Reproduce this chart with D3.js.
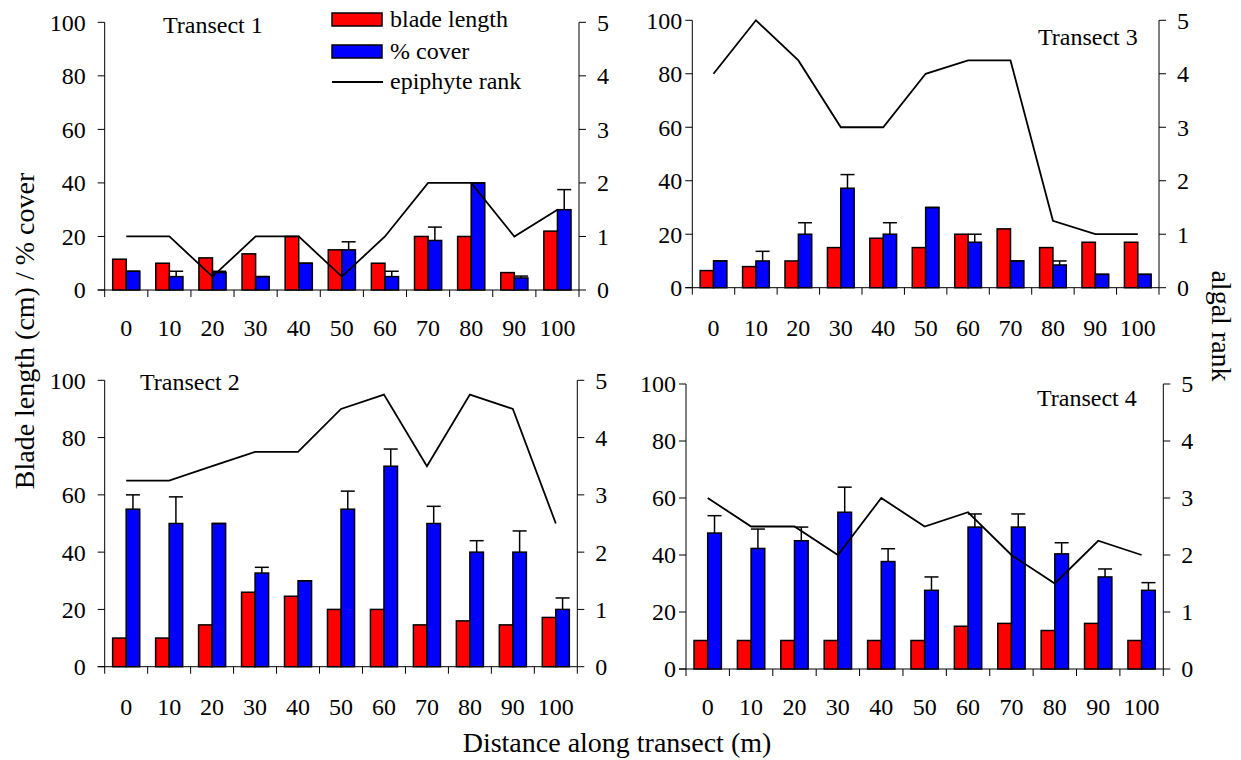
<!DOCTYPE html>
<html>
<head>
<meta charset="utf-8">
<script src="https://cdn.jsdelivr.net/npm/d3@7"></script>
<style>
  html, body { margin: 0; padding: 0; background: #fff; }
  svg { display: block; }
  svg text { font-family: "Liberation Serif", "Times New Roman", Times, serif; }
</style>
</head>
<body>
<svg id="chart" width="1241" height="760"></svg>
<script>
// ---------- DATA ----------
const categories = ["0","10","20","30","40","50","60","70","80","90","100"];
const leftTicks = [0,20,40,60,80,100];
const rightTicks = [0,1,2,3,4,5];

// Transect 1
const blade1 = [11.5,10,12,13.5,20,15,10,20,20,6.5,22];
const cover1 = [7,5,6.5,5,10,15,5,18.5,40,4.5,30];
const err1   = [0,2,0.5,0,0,3,2,5,0,0.7,7.5];
const rank1  = [1,1,0.25,1,1,0.25,1,2,2,1,1.5];

// Transect 2
const blade2 = [10,10,14.6,26,24.6,20,20,14.6,16,14.6,17.2];
const cover2 = [55,50,50,32.7,30,55,70,50,40,40,20];
const err2   = [5,9.3,0,2,0,6.3,6,6,4,7.4,4];
const rank2  = [3.25,3.25,3.5,3.75,3.75,4.5,4.75,3.5,4.75,4.5,2.5];

// Transect 3
const blade3 = [6.4,7.9,10,15,18.5,15,20,22,15,17,17];
const cover3 = [10,10,20,37.2,20,30,17,10,8.5,5,5];
const err3   = [0,3.6,4.3,5.1,4.3,0,3,0,1.5,0,0];
const rank3  = [4,5,4.25,3,3,4,4.25,4.25,1.25,1,1];

// Transect 4
const blade4 = [10,10,10,10,10,10,15,16,13.5,16,10];
const cover4 = [47.7,42.3,45,55,37.7,27.6,49.8,49.8,40.4,32.3,27.6];
const err4   = [6.1,6.8,4.8,8.8,4.5,4.7,4.6,4.6,3.9,2.8,2.7];
const rank4  = [3,2.5,2.5,2,3,2.5,2.75,2,1.5,2.25,2];

const legendLabels = ["blade length", "% cover", "epiphyte rank"];

// ---------- DRAW ----------
const svg = d3.select("#chart");
const RED = "#ff0000", BLUE = "#0000ff";
const FONT = "'Liberation Serif', 'Times New Roman', Times, serif";
const TICK_FS = 24;

function panel(cfg) {
  const g = svg.append("g");
  const x = d3.scaleBand().domain(categories).range([cfg.left, cfg.right]).padding(0);
  const y = d3.scaleLinear().domain([0, 100]).range([cfg.bottom, cfg.top]);
  const y2 = d3.scaleLinear().domain([0, 5]).range([cfg.bottom, cfg.top]);
  const bw = x.bandwidth() * 0.315;
  const cx = c => x(c) + x.bandwidth() / 2;

  // x axis line + ticks at band boundaries
  g.append("line").attr("x1", cfg.left - 7).attr("x2", cfg.right)
    .attr("y1", y(0)).attr("y2", y(0)).attr("stroke", "#000").attr("stroke-width", 1);
  const bounds = categories.map(c => x(c)).concat([cfg.right]);
  g.selectAll(".xt").data(bounds).join("line")
    .attr("x1", d => d).attr("x2", d => d)
    .attr("y1", y(0)).attr("y2", y(0) + 7)
    .attr("stroke", "#000").attr("stroke-width", 1);
  g.selectAll(".xl").data(categories).join("text")
    .attr("x", d => cx(d)).attr("y", cfg.bottom + cfg.xlabOff)
    .attr("text-anchor", "middle").attr("font-size", TICK_FS).attr("font-family", FONT).attr("fill", "#000")
    .text(d => d);

  // left axis
  g.append("line").attr("x1", cfg.left).attr("x2", cfg.left)
    .attr("y1", y(100)).attr("y2", y(0)).attr("stroke", "#000").attr("stroke-width", 1);
  g.selectAll(".lt").data(leftTicks).join("line")
    .attr("x1", cfg.left - 7).attr("x2", cfg.left)
    .attr("y1", d => y(d)).attr("y2", d => y(d))
    .attr("stroke", "#000").attr("stroke-width", 1);
  g.selectAll(".ll").data(leftTicks).join("text")
    .attr("x", cfg.left - cfg.lgap).attr("y", d => y(d)).attr("dy", "0.35em")
    .attr("text-anchor", "end").attr("font-size", TICK_FS).attr("font-family", FONT).attr("fill", "#000")
    .text(d => d);

  // right axis
  g.append("line").attr("x1", cfg.right).attr("x2", cfg.right)
    .attr("y1", y2(5)).attr("y2", y2(0)).attr("stroke", "#000").attr("stroke-width", 1);
  g.selectAll(".rt").data(rightTicks).join("line")
    .attr("x1", cfg.right).attr("x2", cfg.right + 7)
    .attr("y1", d => y2(d)).attr("y2", d => y2(d))
    .attr("stroke", "#000").attr("stroke-width", 1);
  g.selectAll(".rl").data(rightTicks).join("text")
    .attr("x", cfg.right + 18).attr("y", d => y2(d)).attr("dy", "0.35em")
    .attr("text-anchor", "start").attr("font-size", TICK_FS).attr("font-family", FONT).attr("fill", "#000")
    .text(d => d);

  // bars
  g.selectAll(".rb").data(categories).join("rect")
    .attr("x", d => cx(d) - bw).attr("width", bw)
    .attr("y", (d, i) => y(cfg.blade[i])).attr("height", (d, i) => y(0) - y(cfg.blade[i]))
    .attr("fill", RED).attr("stroke", "#000").attr("stroke-width", 1.5);
  g.selectAll(".bb").data(categories).join("rect")
    .attr("x", d => cx(d)).attr("width", bw)
    .attr("y", (d, i) => y(cfg.cover[i])).attr("height", (d, i) => y(0) - y(cfg.cover[i]))
    .attr("fill", BLUE).attr("stroke", "#000").attr("stroke-width", 1.5);

  // error bars on cover
  g.selectAll(".ev").data(categories).join("line")
    .attr("x1", d => cx(d) + bw / 2).attr("x2", d => cx(d) + bw / 2)
    .attr("y1", (d, i) => y(cfg.cover[i])).attr("y2", (d, i) => y(cfg.cover[i] + cfg.err[i]))
    .attr("stroke", "#000").attr("stroke-width", 1.5);
  g.selectAll(".ec").data(categories).join("line")
    .attr("x1", d => cx(d) + bw / 2 - 7).attr("x2", d => cx(d) + bw / 2 + 7)
    .attr("y1", (d, i) => y(cfg.cover[i] + cfg.err[i])).attr("y2", (d, i) => y(cfg.cover[i] + cfg.err[i]))
    .attr("stroke", "#000").attr("stroke-width", 1.5);

  // rank line
  const line = d3.line().x((d, i) => cx(categories[i])).y(d => y2(d));
  g.append("path").datum(cfg.rank).attr("d", line)
    .attr("fill", "none").attr("stroke", "#000").attr("stroke-width", 1.8);

  // transect label
  g.append("text").attr("x", cfg.tx).attr("y", cfg.ty)
    .attr("font-size", 24).attr("font-family", FONT).attr("fill", "#000").text(cfg.title);
}

panel({left: 104.7, right: 579, top: 22.3, bottom: 290, lgap: 19, xlabOff: 46,
  blade: blade1, cover: cover1, err: err1, rank: rank1, title: "Transect 1", tx: 163, ty: 33});
panel({left: 692.3, right: 1159, top: 20.3, bottom: 287.7, lgap: 10, xlabOff: 48,
  blade: blade3, cover: cover3, err: err3, rank: rank3, title: "Transect 3", tx: 1038, ty: 45});
panel({left: 104.7, right: 577.3, top: 380.3, bottom: 666.7, lgap: 19, xlabOff: 48,
  blade: blade2, cover: cover2, err: err2, rank: rank2, title: "Transect 2", tx: 140, ty: 390});
panel({left: 686, right: 1163.3, top: 384, bottom: 669, lgap: 10, xlabOff: 46,
  blade: blade4, cover: cover4, err: err4, rank: rank4, title: "Transect 4", tx: 1037, ty: 406});

// legend
const leg = svg.append("g");
const legY = [13, 45, 75];
leg.append("rect").attr("x", 332).attr("y", legY[0]).attr("width", 50).attr("height", 13)
  .attr("fill", RED).attr("stroke", "#000").attr("stroke-width", 1.5);
leg.append("rect").attr("x", 332).attr("y", legY[1]).attr("width", 50).attr("height", 13)
  .attr("fill", BLUE).attr("stroke", "#000").attr("stroke-width", 1.5);
leg.append("line").attr("x1", 332).attr("x2", 383).attr("y1", 82).attr("y2", 82)
  .attr("stroke", "#000").attr("stroke-width", 1.8);
leg.selectAll("text").data(legendLabels).join("text")
  .attr("x", 390).attr("y", (d, i) => [27, 59, 89][i])
  .attr("font-size", 24).attr("font-family", FONT).attr("fill", "#000").text(d => d);

// axis titles
svg.append("text").attr("x", 617).attr("y", 752).attr("text-anchor", "middle")
  .attr("font-size", 28).attr("font-family", FONT).attr("fill", "#000").text("Distance along transect (m)");
svg.append("text").attr("transform", "translate(34,331) rotate(-90)").attr("text-anchor", "middle")
  .attr("font-size", 28).attr("font-family", FONT).attr("fill", "#000").text("Blade length (cm) / % cover");
svg.append("text").attr("transform", "translate(1212,326) rotate(90)").attr("text-anchor", "middle")
  .attr("font-size", 28).attr("font-family", FONT).attr("fill", "#000").text("algal rank");
</script>
</body>
</html>
